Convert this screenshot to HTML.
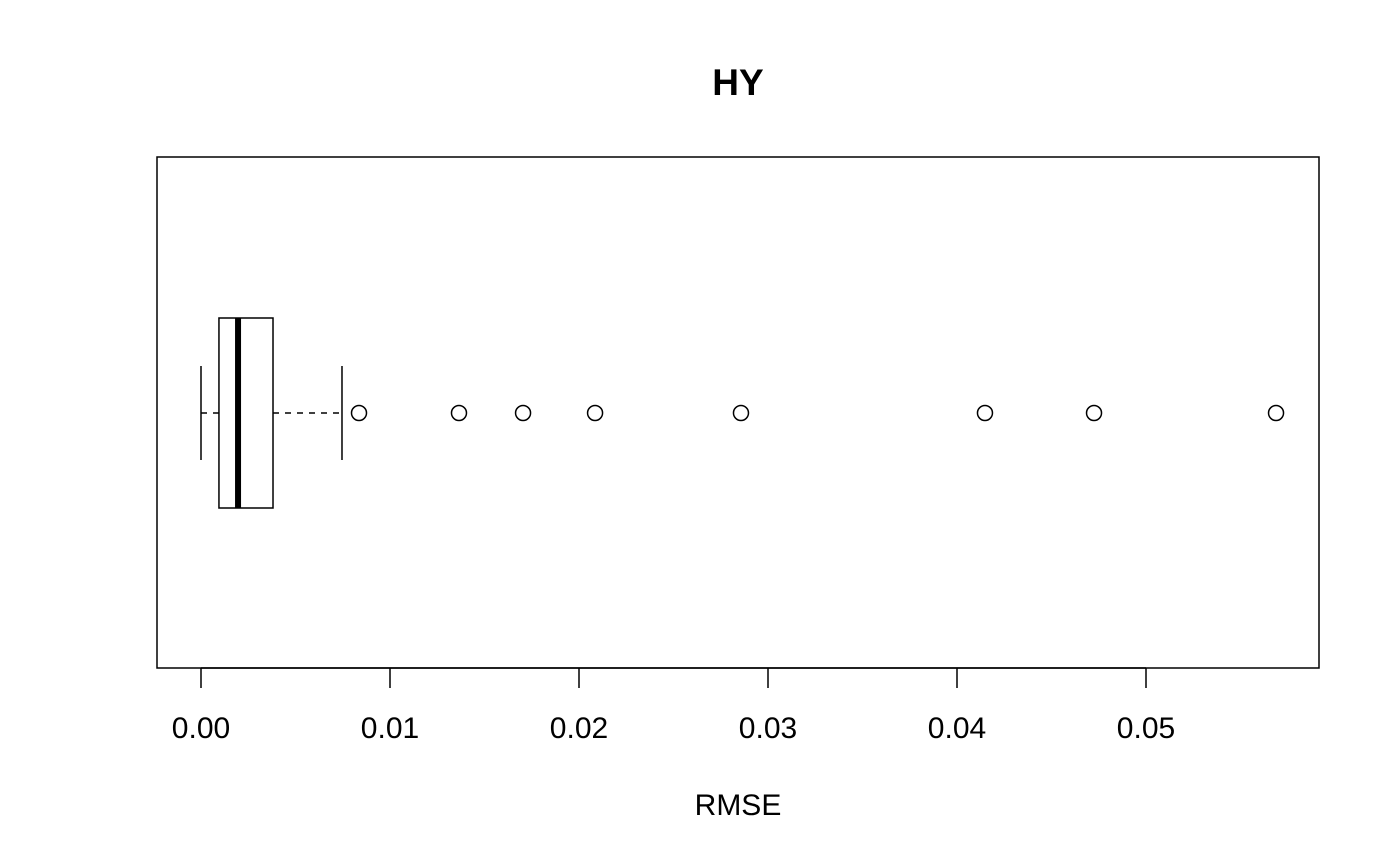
<!DOCTYPE html>
<html><head><meta charset="utf-8"><style>
html,body{margin:0;padding:0;background:#fff;}
svg{display:block;font-family:"Liberation Sans",Arial,sans-serif;}
</style></head><body>
<svg id="chart" width="1400" height="865" viewBox="0 0 1400 865">
<text x="738" y="95" text-anchor="middle" font-size="37" font-weight="bold">HY</text>
<rect x="157" y="157" width="1162" height="511" fill="none" stroke="#000" stroke-width="1.5"/>
<g id="axis"></g>
<g id="box"></g>
<g id="outliers"></g>
<text x="738" y="815" text-anchor="middle" font-size="30">RMSE</text>
</svg>
<script>
const tickValues=[0,0.01,0.02,0.03,0.04,0.05];
const tickLabels=["0.00","0.01","0.02","0.03","0.04","0.05"];
const whiskerLow=[0];
const q1=[0.00095];
const median=[0.00196];
const q3=[0.00381];
const whiskerHigh=[0.00746];
const outlierValues=[0.00836,0.01365,0.01704,0.02085,0.02857,0.04148,0.04725,0.05688];

const NS="http://www.w3.org/2000/svg";
const x=v=>201+v*18900;
const cy=413;
function mk(tag,attrs,parent){const e=document.createElementNS(NS,tag);for(const k in attrs)e.setAttribute(k,attrs[k]);parent.appendChild(e);return e;}
const axis=document.getElementById('axis');
let l=mk('line',{x1:x(tickValues[0]),x2:x(tickValues[tickValues.length-1]),y1:668,y2:668,stroke:'#000','stroke-width':1.5},axis);


tickValues.forEach((v,i)=>{
  const t=mk('line',{x1:x(v),x2:x(v),y1:668,y2:688,stroke:'#000','stroke-width':1.5},axis);
  
  
  const tx=mk('text',{x:x(v),y:738,'text-anchor':'middle','font-size':30},axis);
  tx.textContent=tickLabels[i];
  
  
});
const box=document.getElementById('box');
const s={stroke:'#000','stroke-width':1.5,fill:'none'};
let w1=mk('line',Object.assign({x1:x(whiskerLow[0]),x2:x(q1[0]),y1:cy,y2:cy,'stroke-dasharray':'6,6'},s),box);


let w2=mk('line',Object.assign({x1:x(q3[0]),x2:x(whiskerHigh[0]),y1:cy,y2:cy,'stroke-dasharray':'6,6'},s),box);


let c1=mk('line',Object.assign({x1:x(whiskerLow[0]),x2:x(whiskerLow[0]),y1:366,y2:460},s),box);


let c2=mk('line',Object.assign({x1:x(whiskerHigh[0]),x2:x(whiskerHigh[0]),y1:366,y2:460},s),box);


let r=mk('rect',Object.assign({x:x(q1[0]),y:318,width:x(q3[0])-x(q1[0]),height:190},s),box);


let m=mk('line',{x1:x(median[0]),x2:x(median[0]),y1:318,y2:508,stroke:'#000','stroke-width':6},box);


const og=document.getElementById('outliers');
outlierValues.forEach(v=>{
  const c=mk('circle',{cx:x(v),cy:cy,r:7.5,fill:'none',stroke:'#000','stroke-width':1.5},og);
  
  
});
</script>
</body></html>
